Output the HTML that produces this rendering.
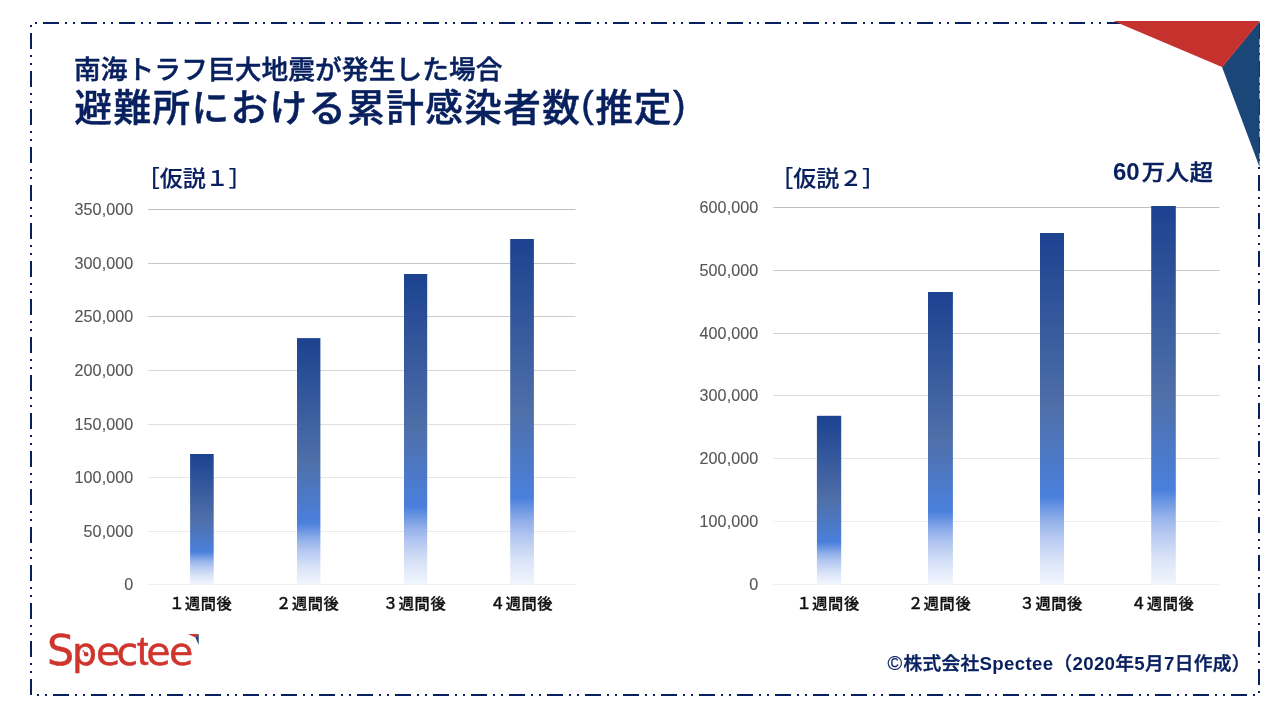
<!DOCTYPE html>
<html lang="ja">
<head>
<meta charset="utf-8">
<title>避難所における累計感染者数(推定)</title>
<style>
html,body{margin:0;padding:0;background:#fff;}
body{width:1280px;height:720px;position:relative;overflow:hidden;font-family:"Liberation Sans","Noto Sans CJK JP",sans-serif;}
#gfx{position:absolute;left:0;top:0;}
.t{position:absolute;white-space:nowrap;line-height:1;}
.jp{font-family:"Liberation Sans","Noto Sans CJK JP",sans-serif;}
.navy{color:#08205e;}
#t1{left:74px;top:56.9px;font-size:26.7px;letter-spacing:0.1px;font-weight:500;-webkit-text-stroke:0.45px #08205e;}
#t2 .p{position:relative;top:-3.6px;}
#t2{left:74.5px;top:90px;font-size:37.6px;letter-spacing:1.4px;font-weight:500;-webkit-text-stroke:0.5px #08205e;}
.hyp{transform:scaleY(0.95);transform-origin:50% 95%;font-size:23px;font-weight:500;top:167.2px;-webkit-text-stroke:0.2px #08205e;}
.ax{margin-top:-0.4px;margin-left:0.4px;font-size:16.1px;letter-spacing:0.1px;color:#565656;text-align:right;width:80px;-webkit-text-stroke:0.12px #565656;}
.cat{font-size:15.2px;letter-spacing:0.6px;font-weight:500;color:#111;text-align:center;width:100px;top:595.8px;-webkit-text-stroke:0.33px #111;}
#over{left:1113px;top:160px;font-size:24px;font-weight:700;}
#over .k{display:inline-block;margin-left:2px;font-size:23.2px;letter-spacing:0.8px;font-weight:500;-webkit-text-stroke:0.5px #08205e;transform:scaleY(0.93);transform-origin:50% 80%;}
#foot{left:887.6px;top:652.7px;font-size:18.67px;letter-spacing:0.34px;font-weight:700;}
#foot .c{font-size:20px;font-weight:400;-webkit-text-stroke:0.2px #08205e;letter-spacing:0;margin-right:1.2px;position:relative;top:0.5px;}
#foot .k{font-weight:500;-webkit-text-stroke:0.45px #08205e;}
</style>
</head>
<body>
<svg id="gfx" width="1280" height="720" viewBox="0 0 1280 720">
  <defs>
    <linearGradient id="bar" x1="0" y1="0" x2="0" y2="1">
      <stop offset="0" stop-color="#1c4290"/>
      <stop offset="0.5" stop-color="#4f6fa9"/>
      <stop offset="0.75" stop-color="#4a80dc"/>
      <stop offset="0.82" stop-color="#94b1ea"/>
      <stop offset="0.86" stop-color="#b2c6f0"/>
      <stop offset="0.93" stop-color="#d9e3f8"/>
      <stop offset="1" stop-color="#f2f6fd"/>
    </linearGradient>
  </defs>
  <!-- border -->
  <path d="M31,695 L31,23 L1259,23 L1259,695 Z" fill="none" stroke="#08205e" stroke-width="2" stroke-dasharray="16 6 2 6 2 6"/>
  <!-- corner triangles -->
  <polygon points="1113.5,21 1259.5,21 1222,67" fill="#c5322d"/>
  <polygon points="1259.5,21 1222,67 1259.5,167" fill="#1a4678"/>
  <line x1="1259.3" y1="21.6" x2="1222" y2="67" stroke="#dd372c" stroke-width="0.9"/>
  <!-- chart 1 grid -->
  <g id="grid1">
    <rect x="148.3" y="209" width="427.2" height="1" fill="#bfbfbf"/>
    <rect x="148.3" y="263" width="427.2" height="1" fill="#c6c6c6"/>
    <rect x="148.3" y="316" width="427.2" height="1" fill="#cdcdcd"/>
    <rect x="148.3" y="370" width="427.2" height="1" fill="#d6d6d6"/>
    <rect x="148.3" y="424" width="427.2" height="1" fill="#e0e0e0"/>
    <rect x="148.3" y="477" width="427.2" height="1" fill="#e7e7e7"/>
    <rect x="148.3" y="531" width="427.2" height="1" fill="#ebebeb"/>
    <rect x="148.3" y="584" width="427.2" height="1" fill="#efefef"/>
  </g>
  <g id="bars1" fill="url(#bar)">
    <rect x="190.1" y="454" width="23.6" height="130.4"/>
    <rect x="297" y="338.1" width="23.4" height="246.3"/>
    <rect x="404" y="274" width="23.2" height="310.4"/>
    <rect x="510.2" y="239" width="23.7" height="345.4"/>
  </g>
  <!-- chart 2 grid -->
  <g id="grid2">
    <rect x="773.3" y="207" width="446.2" height="1" fill="#bfbfbf"/>
    <rect x="773.3" y="270" width="446.2" height="1" fill="#c7c7c7"/>
    <rect x="773.3" y="333" width="446.2" height="1" fill="#cfcfcf"/>
    <rect x="773.3" y="395" width="446.2" height="1" fill="#dadada"/>
    <rect x="773.3" y="458" width="446.2" height="1" fill="#e6e6e6"/>
    <rect x="773.3" y="521" width="446.2" height="1" fill="#eeeeee"/>
    <rect x="773.3" y="584" width="446.2" height="1" fill="#f0f0f0"/>
  </g>
  <g id="bars2" fill="url(#bar)">
    <rect x="816.9" y="415.8" width="24.3" height="168.6"/>
    <rect x="928" y="292" width="24.9" height="292.4"/>
    <rect x="1040" y="233" width="24" height="351.4"/>
    <rect x="1151.2" y="206" width="24.6" height="378.4"/>
  </g>
  <!-- logo -->
  <g id="logo">
    <text x="47 71.9 95.9 116.5 137 146.3 168.9" y="665" font-family="DejaVu Sans, Liberation Sans, sans-serif" font-size="39.5" fill="#cf352d" stroke="#cf352d" stroke-width="0.5"><tspan font-size="42.8">S</tspan>pec<tspan font-family="Liberation Sans, sans-serif" font-size="41">t</tspan>ee</text>
    <circle cx="86.2" cy="654.3" r="2.3" fill="#cf352d"/>
    <line x1="86.2" y1="654.3" x2="82.6" y2="650.4" stroke="#cf352d" stroke-width="1.1"/>
    <polygon points="188,634 198.7,634 195.4,637.6" fill="#cf352d"/>
    <polygon points="198.7,634 195.4,637.6 198.7,645" fill="#1a4678"/>
  </g>
</svg>

<div class="t jp navy" id="t1">南海トラフ巨大地震が発生した場合</div>
<div class="t jp navy" id="t2">避難所における累計感染者数<span class="p">(</span>推定<span class="p">)</span></div>

<div class="t jp navy hyp" style="left:136.8px;">［仮説１］</div>
<div class="t jp navy hyp" style="left:770.2px;">［仮説２］</div>

<div class="t ax" style="left:53px;top:201px;">350,000</div>
<div class="t ax" style="left:53px;top:255px;">300,000</div>
<div class="t ax" style="left:53px;top:308px;">250,000</div>
<div class="t ax" style="left:53px;top:362px;">200,000</div>
<div class="t ax" style="left:53px;top:416px;">150,000</div>
<div class="t ax" style="left:53px;top:469px;">100,000</div>
<div class="t ax" style="left:53px;top:523px;">50,000</div>
<div class="t ax" style="left:53px;top:576.6px;">0</div>

<div class="t ax" style="left:678px;top:199.6px;">600,000</div>
<div class="t ax" style="left:678px;top:262.6px;">500,000</div>
<div class="t ax" style="left:678px;top:325.6px;">400,000</div>
<div class="t ax" style="left:678px;top:387.6px;">300,000</div>
<div class="t ax" style="left:678px;top:450.6px;">200,000</div>
<div class="t ax" style="left:678px;top:513.6px;">100,000</div>
<div class="t ax" style="left:678px;top:576.6px;">0</div>

<div class="t jp cat" style="left:150.8px;">１週間後</div>
<div class="t jp cat" style="left:257.7px;">２週間後</div>
<div class="t jp cat" style="left:364.6px;">３週間後</div>
<div class="t jp cat" style="left:471.5px;">４週間後</div>

<div class="t jp cat" style="left:778.1px;">１週間後</div>
<div class="t jp cat" style="left:889.6px;">２週間後</div>
<div class="t jp cat" style="left:1001.2px;">３週間後</div>
<div class="t jp cat" style="left:1112.7px;">４週間後</div>

<div class="t navy" id="over">60<span class="k">万人超</span></div>
<div class="t navy" id="foot"><span class="c">©</span><span class="k">株式会社</span>Spectee<span class="k">（</span>2020<span class="k">年</span>5<span class="k">月</span>7<span class="k">日作成）</span></div>
</body>
</html>
